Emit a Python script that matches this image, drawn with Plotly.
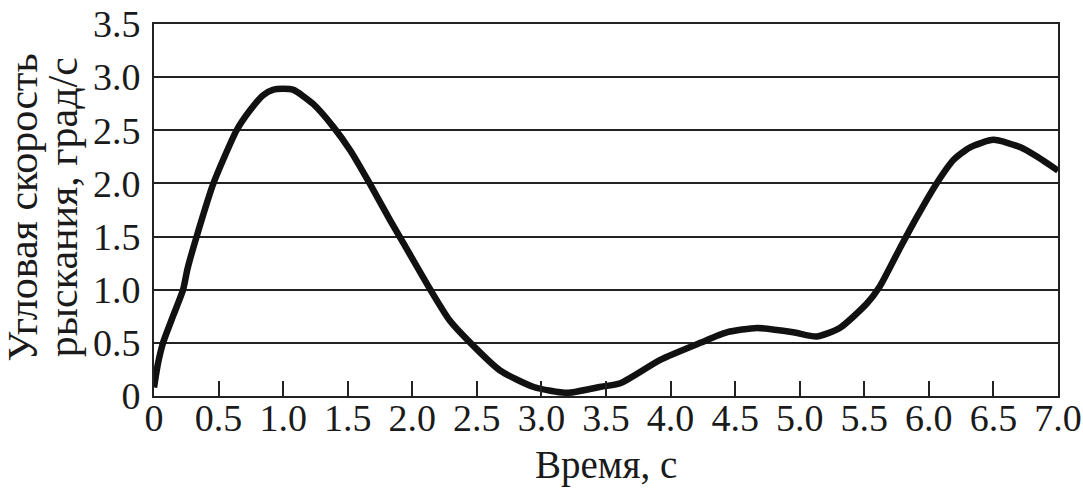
import plotly.graph_objects as go

time_s = [0.0, 0.03, 0.07, 0.15, 0.225, 0.26, 0.33, 0.46, 0.64, 0.745, 0.845, 0.92, 1.0, 1.08,
          1.23, 1.39, 1.52, 1.67, 1.83, 1.93, 2.14, 2.29, 2.45, 2.68, 2.94, 3.2, 3.45,
          3.61, 3.92, 4.23, 4.44, 4.67, 4.95, 5.13, 5.31, 5.52, 5.62, 5.78, 5.91, 6.06,
          6.19, 6.32, 6.5, 6.71, 6.84, 7.0]
yaw_rate = [0.08, 0.3, 0.5, 0.76, 1.0, 1.2, 1.5, 2.0, 2.5, 2.69, 2.83, 2.88, 2.89, 2.88,
            2.75, 2.53, 2.31, 2.0, 1.65, 1.44, 1.0, 0.71, 0.5, 0.24, 0.085, 0.03, 0.085,
            0.12, 0.34, 0.5, 0.6, 0.64, 0.6, 0.56, 0.64, 0.87, 1.03, 1.4, 1.69, 2.0,
            2.22, 2.34, 2.41, 2.34, 2.25, 2.12]

x_tickvals = [0, 0.5, 1.0, 1.5, 2.0, 2.5, 3.0, 3.5, 4.0, 4.5, 5.0, 5.5, 6.0, 6.5, 7.0]
x_ticktext = ["0", "0.5", "1.0", "1.5", "2.0", "2.5", "3.0", "3.5", "4.0", "4.5",
              "5.0", "5.5", "6.0", "6.5", "7.0"]
y_tickvals = [0, 0.5, 1.0, 1.5, 2.0, 2.5, 3.0, 3.5]
y_ticktext = ["0", "0.5", "1.0", "1.5", "2.0", "2.5", "3.0", "3.5"]

x_title = "Время, с"
y_title_line1 = "Угловая скорость"
y_title_line2 = "рыскания, град/с"

font_family = "Liberation Serif, Times New Roman, serif"
FS = 38
TFS = 42
TXT = "#1a1a1a"

fig = go.Figure()
fig.add_trace(go.Scatter(x=time_s, y=yaw_rate, mode="lines",
                         line=dict(color="#111111", width=6.5, shape="spline", smoothing=0.6),
                         showlegend=False, cliponaxis=False))

fig.update_layout(
    width=1083, height=489,
    margin=dict(l=154, r=25, t=24, b=93, autoexpand=False),
    paper_bgcolor="white", plot_bgcolor="white",
    font=dict(family=font_family, size=FS, color=TXT),
)
fig.update_xaxes(
    range=[0, 7.0], tickvals=x_tickvals, ticktext=x_ticktext,
    ticks="inside", ticklen=15, tickwidth=1.5, tickcolor="#222",
    showgrid=False, zeroline=False, automargin=False,
    showline=True, linecolor="#222", linewidth=2, mirror=True,
    tickfont=dict(size=FS), ticklabelstandoff=-13,
)
fig.update_yaxes(
    range=[0, 3.5], tickvals=y_tickvals, ticktext=y_ticktext,
    ticks="inside", ticklen=4, tickwidth=1.5, tickcolor="#222",
    showgrid=True, gridcolor="#222", gridwidth=1.5, zeroline=False, automargin=False,
    showline=True, linecolor="#222", linewidth=2, mirror=True,
    tickfont=dict(size=FS), ticklabelstandoff=4,
)
fig.add_annotation(text=y_title_line1, textangle=-90, xref="paper", yref="paper",
                   x=-0.1445, y=0.508, xanchor="center", yanchor="middle",
                   showarrow=False, font=dict(size=TFS, family=font_family, color=TXT))
fig.add_annotation(text=y_title_line2, textangle=-90, xref="paper", yref="paper",
                   x=-0.1005, y=0.508, xanchor="center", yanchor="middle",
                   showarrow=False, font=dict(size=TFS, family=font_family, color=TXT))
fig.add_annotation(text=x_title, xref="paper", yref="paper",
                   x=0.5, y=-0.186, xanchor="center", yanchor="middle",
                   showarrow=False, font=dict(size=39, family=font_family, color=TXT))

fig.write_html("out.html", config={"displayModeBar": False},
               post_script="document.body.style.margin='0';document.body.style.overflow='hidden';")
